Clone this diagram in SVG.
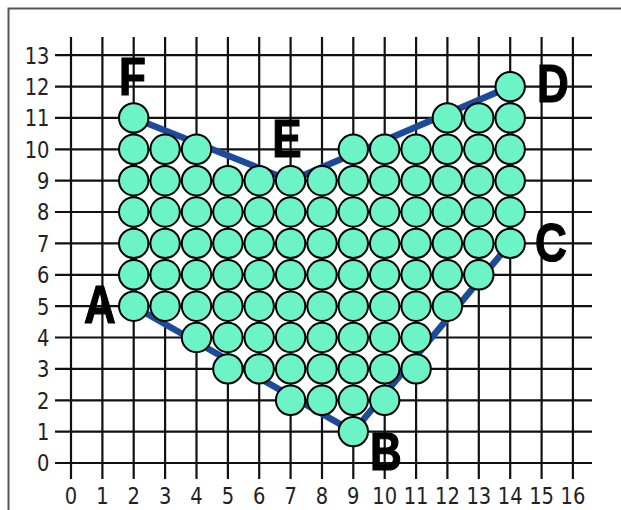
<svg xmlns="http://www.w3.org/2000/svg" width="621" height="510" viewBox="0 0 621 510">
<style>
.g{stroke:#111;stroke-width:2.2;fill:none}
.c{fill:#6cf3c6;stroke:#000;stroke-width:2}
.ax{font-family:"DejaVu Sans",sans-serif;font-size:19.5px;fill:#222}
.yl{text-anchor:end}
.xl{text-anchor:middle}
.lab{font-family:"Liberation Sans",Arial,sans-serif;font-weight:bold;font-size:44px;fill:#000;stroke:#000;stroke-width:1;text-anchor:middle}
</style>
<rect x="0" y="0" width="621" height="510" fill="#fff"/>
<rect x="8.5" y="8.5" width="640" height="540" fill="none" stroke="#555" stroke-width="2"/>
<g id="grid" class="g">
<path d="M71 37V479M102.4 37V479M133.7 37V479M165.1 37V479M196.5 37V479M227.9 37V479M259.2 37V479M290.6 37V479M322 37V479M353.3 37V479M384.7 37V479M416.1 37V479M447.4 37V479M478.8 37V479M510.2 37V479M541.6 37V479M572.9 37V479"/>
<path d="M55 463H592M55 431.6H592M55 400.3H592M55 368.9H592M55 337.5H592M55 306.2H592M55 274.8H592M55 243.4H592M55 212H592M55 180.7H592M55 149.3H592M55 117.9H592M55 86.6H592M55 55.2H592"/>
</g>
<g id="y-axis" class="ax yl">
<text transform="translate(49.5,471.3) scale(1,1.2)">0</text>
<text transform="translate(49.5,439.9) scale(1,1.2)">1</text>
<text transform="translate(49.5,408.6) scale(1,1.2)">2</text>
<text transform="translate(49.5,377.2) scale(1,1.2)">3</text>
<text transform="translate(49.5,345.8) scale(1,1.2)">4</text>
<text transform="translate(49.5,314.5) scale(1,1.2)">5</text>
<text transform="translate(49.5,283.1) scale(1,1.2)">6</text>
<text transform="translate(49.5,251.7) scale(1,1.2)">7</text>
<text transform="translate(49.5,220.3) scale(1,1.2)">8</text>
<text transform="translate(49.5,189) scale(1,1.2)">9</text>
<text transform="translate(49.5,157.6) scale(1,1.2)">10</text>
<text transform="translate(49.5,126.2) scale(1,1.2)">11</text>
<text transform="translate(49.5,94.9) scale(1,1.2)">12</text>
<text transform="translate(49.5,63.5) scale(1,1.2)">13</text>
</g>
<g id="x-axis" class="ax xl">
<text transform="translate(71,504) scale(1,1.2)">0</text>
<text transform="translate(102.4,504) scale(1,1.2)">1</text>
<text transform="translate(133.7,504) scale(1,1.2)">2</text>
<text transform="translate(165.1,504) scale(1,1.2)">3</text>
<text transform="translate(196.5,504) scale(1,1.2)">4</text>
<text transform="translate(227.9,504) scale(1,1.2)">5</text>
<text transform="translate(259.2,504) scale(1,1.2)">6</text>
<text transform="translate(290.6,504) scale(1,1.2)">7</text>
<text transform="translate(322,504) scale(1,1.2)">8</text>
<text transform="translate(353.3,504) scale(1,1.2)">9</text>
<text transform="translate(384.7,504) scale(1,1.2)">10</text>
<text transform="translate(416.1,504) scale(1,1.2)">11</text>
<text transform="translate(447.4,504) scale(1,1.2)">12</text>
<text transform="translate(478.8,504) scale(1,1.2)">13</text>
<text transform="translate(510.2,504) scale(1,1.2)">14</text>
<text transform="translate(541.6,504) scale(1,1.2)">15</text>
<text transform="translate(572.9,504) scale(1,1.2)">16</text>
</g>
<g id="connectors">
<polygon points="133.7,306.2 353.3,431.6 510.2,243.4 510.2,86.6 290.6,180.7 133.7,117.9" fill="none" stroke="#1d4b9b" stroke-width="6.5" stroke-linejoin="round"/>
</g>
<g id="packing" class="c">
<circle cx="510.2" cy="86.6" r="14.7"/>
<circle cx="133.7" cy="117.9" r="14.7"/><circle cx="447.4" cy="117.9" r="14.7"/><circle cx="478.8" cy="117.9" r="14.7"/><circle cx="510.2" cy="117.9" r="14.7"/>
<circle cx="133.7" cy="149.3" r="14.7"/><circle cx="165.1" cy="149.3" r="14.7"/><circle cx="196.5" cy="149.3" r="14.7"/><circle cx="353.3" cy="149.3" r="14.7"/><circle cx="384.7" cy="149.3" r="14.7"/><circle cx="416.1" cy="149.3" r="14.7"/><circle cx="447.4" cy="149.3" r="14.7"/><circle cx="478.8" cy="149.3" r="14.7"/><circle cx="510.2" cy="149.3" r="14.7"/>
<circle cx="133.7" cy="180.7" r="14.7"/><circle cx="165.1" cy="180.7" r="14.7"/><circle cx="196.5" cy="180.7" r="14.7"/><circle cx="227.9" cy="180.7" r="14.7"/><circle cx="259.2" cy="180.7" r="14.7"/><circle cx="290.6" cy="180.7" r="14.7"/><circle cx="322" cy="180.7" r="14.7"/><circle cx="353.3" cy="180.7" r="14.7"/><circle cx="384.7" cy="180.7" r="14.7"/><circle cx="416.1" cy="180.7" r="14.7"/><circle cx="447.4" cy="180.7" r="14.7"/><circle cx="478.8" cy="180.7" r="14.7"/><circle cx="510.2" cy="180.7" r="14.7"/>
<circle cx="133.7" cy="212" r="14.7"/><circle cx="165.1" cy="212" r="14.7"/><circle cx="196.5" cy="212" r="14.7"/><circle cx="227.9" cy="212" r="14.7"/><circle cx="259.2" cy="212" r="14.7"/><circle cx="290.6" cy="212" r="14.7"/><circle cx="322" cy="212" r="14.7"/><circle cx="353.3" cy="212" r="14.7"/><circle cx="384.7" cy="212" r="14.7"/><circle cx="416.1" cy="212" r="14.7"/><circle cx="447.4" cy="212" r="14.7"/><circle cx="478.8" cy="212" r="14.7"/><circle cx="510.2" cy="212" r="14.7"/>
<circle cx="133.7" cy="243.4" r="14.7"/><circle cx="165.1" cy="243.4" r="14.7"/><circle cx="196.5" cy="243.4" r="14.7"/><circle cx="227.9" cy="243.4" r="14.7"/><circle cx="259.2" cy="243.4" r="14.7"/><circle cx="290.6" cy="243.4" r="14.7"/><circle cx="322" cy="243.4" r="14.7"/><circle cx="353.3" cy="243.4" r="14.7"/><circle cx="384.7" cy="243.4" r="14.7"/><circle cx="416.1" cy="243.4" r="14.7"/><circle cx="447.4" cy="243.4" r="14.7"/><circle cx="478.8" cy="243.4" r="14.7"/><circle cx="510.2" cy="243.4" r="14.7"/>
<circle cx="133.7" cy="274.8" r="14.7"/><circle cx="165.1" cy="274.8" r="14.7"/><circle cx="196.5" cy="274.8" r="14.7"/><circle cx="227.9" cy="274.8" r="14.7"/><circle cx="259.2" cy="274.8" r="14.7"/><circle cx="290.6" cy="274.8" r="14.7"/><circle cx="322" cy="274.8" r="14.7"/><circle cx="353.3" cy="274.8" r="14.7"/><circle cx="384.7" cy="274.8" r="14.7"/><circle cx="416.1" cy="274.8" r="14.7"/><circle cx="447.4" cy="274.8" r="14.7"/><circle cx="478.8" cy="274.8" r="14.7"/>
<circle cx="133.7" cy="306.2" r="14.7"/><circle cx="165.1" cy="306.2" r="14.7"/><circle cx="196.5" cy="306.2" r="14.7"/><circle cx="227.9" cy="306.2" r="14.7"/><circle cx="259.2" cy="306.2" r="14.7"/><circle cx="290.6" cy="306.2" r="14.7"/><circle cx="322" cy="306.2" r="14.7"/><circle cx="353.3" cy="306.2" r="14.7"/><circle cx="384.7" cy="306.2" r="14.7"/><circle cx="416.1" cy="306.2" r="14.7"/><circle cx="447.4" cy="306.2" r="14.7"/>
<circle cx="196.5" cy="337.5" r="14.7"/><circle cx="227.9" cy="337.5" r="14.7"/><circle cx="259.2" cy="337.5" r="14.7"/><circle cx="290.6" cy="337.5" r="14.7"/><circle cx="322" cy="337.5" r="14.7"/><circle cx="353.3" cy="337.5" r="14.7"/><circle cx="384.7" cy="337.5" r="14.7"/><circle cx="416.1" cy="337.5" r="14.7"/>
<circle cx="227.9" cy="368.9" r="14.7"/><circle cx="259.2" cy="368.9" r="14.7"/><circle cx="290.6" cy="368.9" r="14.7"/><circle cx="322" cy="368.9" r="14.7"/><circle cx="353.3" cy="368.9" r="14.7"/><circle cx="384.7" cy="368.9" r="14.7"/><circle cx="416.1" cy="368.9" r="14.7"/>
<circle cx="290.6" cy="400.3" r="14.7"/><circle cx="322" cy="400.3" r="14.7"/><circle cx="353.3" cy="400.3" r="14.7"/><circle cx="384.7" cy="400.3" r="14.7"/>
<circle cx="353.3" cy="431.6" r="14.7"/>
</g>
<g id="node-A"><text class="lab" transform="translate(100,323) scale(1,1.2)">A</text></g>
<g id="node-B"><text class="lab" transform="translate(386,470) scale(1,1.2)">B</text></g>
<g id="node-C"><text class="lab" transform="translate(551,261) scale(1,1.2)">C</text></g>
<g id="node-D"><text class="lab" transform="translate(553,102) scale(1,1.2)">D</text></g>
<g id="node-E"><text class="lab" transform="translate(287,157) scale(1,1.2)">E</text></g>
<g id="node-F"><text class="lab" transform="translate(132.5,95) scale(1,1.2)">F</text></g>
</svg>
